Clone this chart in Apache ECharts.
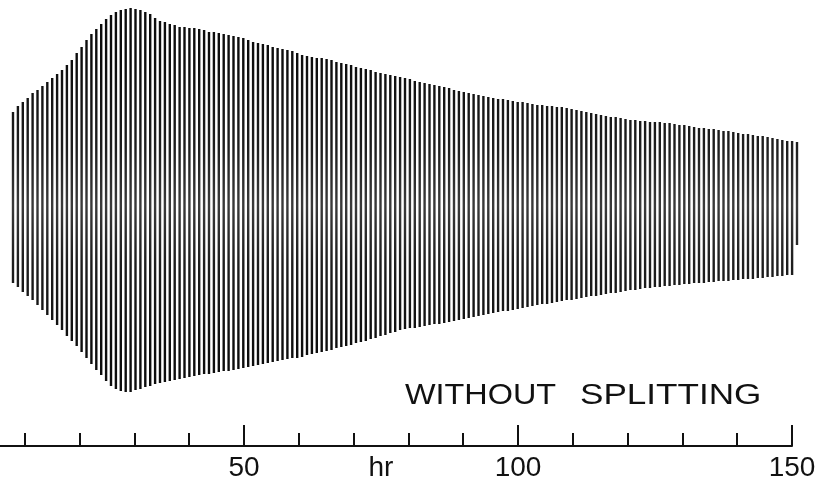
<!DOCTYPE html>
<html>
<head>
<meta charset="utf-8">
<script src="https://cdn.jsdelivr.net/npm/echarts@6/dist/echarts.min.js"></script>
<style>
  html, body { margin: 0; padding: 0; background: #fff; }
  #chart { width: 819px; height: 482px; }
</style>
</head>
<body>
<div id="chart"></div>
<script>
// Peak (upper) and trough (lower) amplitude of each oscillation cycle, arbitrary units
const upperPeaks = [93,99,103,107,112,115,119,123,127,131,135,140,145,152,158,165,171,176,181,186,
  190,193,195,196,197,196,195,193,191,187,184,183,181,180,178,178,177,177,176,175,
  173,173,172,171,170,169,168,167,165,163,162,161,160,158,157,156,155,154,152,150,
  149,148,147,147,146,145,143,142,141,140,138,137,136,135,133,132,131,130,129,128,
  127,126,124,123,122,121,120,119,118,117,115,114,113,112,111,110,109,108,107,106,
  106,105,104,103,103,102,101,100,100,99,99,98,98,97,96,95,94,93,92,91,
  90,89,88,88,87,86,85,85,84,84,83,83,83,82,82,81,80,80,79,78,
  77,77,76,76,75,74,74,73,72,71,71,70,69,69,68,67,66,65,64,64,63];
const lowerPeaks = [-78,-82,-87,-91,-95,-100,-105,-110,-115,-120,-125,-131,-136,-141,-147,-153,-159,-165,-170,-176,
  -181,-184,-186,-187,-187,-185,-184,-182,-181,-179,-178,-177,-176,-175,-174,-173,-172,-171,-170,-169,
  -169,-168,-167,-166,-166,-165,-164,-163,-162,-161,-160,-159,-158,-157,-156,-155,-154,-153,-153,-152,
  -150,-149,-148,-147,-146,-145,-143,-142,-141,-140,-138,-137,-136,-134,-133,-131,-130,-128,-127,-125,
  -124,-123,-123,-122,-121,-120,-119,-119,-118,-117,-116,-115,-114,-113,-112,-111,-110,-109,-108,-107,
  -106,-106,-105,-104,-103,-102,-101,-100,-99,-99,-98,-97,-96,-95,-95,-94,-93,-92,-91,-91,
  -90,-89,-88,-88,-87,-86,-85,-85,-84,-83,-83,-82,-82,-81,-81,-80,-80,-79,-79,-78,
  -78,-78,-77,-77,-76,-76,-76,-75,-75,-74,-74,-74,-73,-73,-72,-72,-71,-71,-70,-70,-40];
const labeledHours = [50, 100, 150];
const axisName = 'hr';
const titleWords = ['WITHOUT', 'SPLITTING'];

const cycles = upperPeaks.map((u, i) => [i, lowerPeaks[i], u]);

const chart = echarts.init(document.getElementById('chart'), null, { renderer: 'canvas' });
const strokeColor = new echarts.graphic.LinearGradient(0, 60, 0, 350, [
  { offset: 0, color: '#0d0d0d' },
  { offset: 0.3, color: '#1e1e1e' },
  { offset: 0.5, color: '#3a3a3a' },
  { offset: 0.7, color: '#1e1e1e' },
  { offset: 1, color: '#0d0d0d' }
], true);

chart.setOption({
  animation: false,
  backgroundColor: '#ffffff',
  grid: [
    { left: 0, right: 0, top: 0, bottom: 0, outerBoundsMode: 'none', containLabel: false },
    { left: -30, width: 822, top: 0, height: 446, outerBoundsMode: 'none', containLabel: false }
  ],
  xAxis: [
    { gridIndex: 0, type: 'value', show: false, min: -2.653, max: 164.49 },
    {
      gridIndex: 1, type: 'value', min: 0, max: 150, interval: 50, position: 'bottom',
      name: axisName, nameLocation: 'middle', nameGap: 8, nameMoveOverlap: false,
      nameTextStyle: { fontSize: 28, color: '#111', fontFamily: 'Liberation Sans', verticalAlign: 'top' },
      axisLine: { show: true, lineStyle: { color: '#111', width: 2 } },
      axisTick: { show: true, inside: true, length: 21, lineStyle: { color: '#111', width: 2 } },
      minorTick: { show: true, splitNumber: 5, length: 13, lineStyle: { color: '#111', width: 2 } },
      splitLine: { show: false },
      minorSplitLine: { show: false },
      axisLabel: {
        margin: 8, fontSize: 28, color: '#111', fontFamily: 'Liberation Sans',
        hideOverlap: false,
        formatter: v => labeledHours.includes(v) ? String(v) : ''
      }
    }
  ],
  yAxis: [
    { gridIndex: 0, type: 'value', show: false, min: -277, max: 205 },
    { gridIndex: 1, type: 'value', show: false, min: 0, max: 1 }
  ],
  graphic: [
    { type: 'text', x: 405, y: 381, scaleX: 1.08, style: { text: titleWords[0], font: '30px "Liberation Sans"', fill: '#111', verticalAlign: 'top' } },
    { type: 'text', x: 580, y: 381, scaleX: 1.17, style: { text: titleWords[1], font: '30px "Liberation Sans"', fill: '#111', verticalAlign: 'top' } }
  ],
  series: [{
    type: 'custom',
    xAxisIndex: 0, yAxisIndex: 0,
    clip: false,
    data: cycles,
    renderItem: function (params, api) {
      const i = api.value(0);
      const p1 = api.coord([i, api.value(1)]);
      const p2 = api.coord([i, api.value(2)]);
      return {
        type: 'line',
        shape: { x1: p1[0], y1: p1[1], x2: p2[0], y2: p2[1] },
        style: { stroke: strokeColor, lineWidth: 2.4 }
      };
    }
  }]
});
</script>
</body>
</html>
